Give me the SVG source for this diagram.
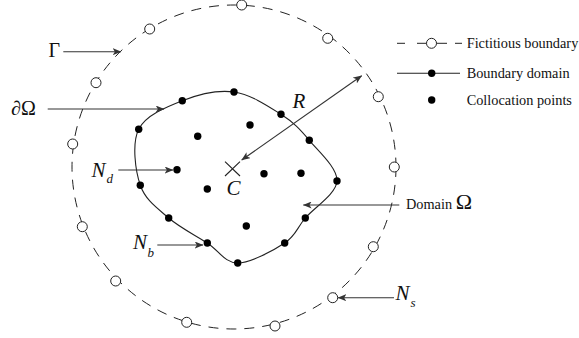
<svg xmlns="http://www.w3.org/2000/svg" width="579" height="338" viewBox="0 0 579 338">
<style>
.bg{fill:#fff}
.dash{fill:none;stroke:#222;stroke-width:1;stroke-dasharray:10 8}
.curve{fill:none;stroke:#222;stroke-width:1.1}
.arr{fill:none;stroke:#333;stroke-width:1.1;marker-end:url(#ah)}
.src{fill:#fff;stroke:#222;stroke-width:1}
.dot{fill:#000}
.lbl{font-family:"Liberation Serif","Times New Roman",serif;font-size:14.3px;fill:#111}
.math{font-family:"Liberation Serif","Times New Roman",serif;font-size:20px;fill:#111}
.big{font-size:21px}
.it{font-style:italic}
.sub{font-family:"Liberation Serif","Times New Roman",serif;font-size:13px;font-style:italic;fill:#111}
</style>
<defs>
<marker id="ah" viewBox="0 0 10 8" refX="9.5" refY="4" markerUnits="userSpaceOnUse" markerWidth="9" markerHeight="7" orient="auto-start-reverse">
<path d="M0,0 L10,4 L0,8 L2.5,4 z" fill="#333"/>
</marker>
</defs>
<rect class="bg" x="0" y="0" width="579" height="338"/>

<g id="fictitious-boundary">
<circle class="dash" cx="234" cy="167" r="162"/>
<circle class="src" cx="241.7" cy="5" r="5"/>
<circle class="src" cx="327.7" cy="38.3" r="5"/>
<circle class="src" cx="378.3" cy="96.7" r="5"/>
<circle class="src" cx="394.3" cy="167" r="5"/>
<circle class="src" cx="373.3" cy="246.7" r="5"/>
<circle class="src" cx="332.7" cy="297.7" r="5"/>
<circle class="src" cx="275" cy="326" r="5"/>
<circle class="src" cx="186.7" cy="322.3" r="5"/>
<circle class="src" cx="115.7" cy="281" r="5"/>
<circle class="src" cx="82.3" cy="226.7" r="5"/>
<circle class="src" cx="72.7" cy="144" r="5"/>
<circle class="src" cx="96" cy="82.7" r="5"/>
<circle class="src" cx="149.7" cy="29" r="5"/>
</g>

<g id="boundary-domain">
<path class="curve" d="M182.3,100.7 C198.18,94.48 217.55,89.73 234,92 C250.45,94.27 268.45,106.25 281,114.3 C293.55,122.35 299.97,129.18 309.3,140.3 C318.63,151.42 337.67,168.05 337,181 C336.33,193.95 314.02,207.67 305.3,218 C296.58,228.33 295.97,235.5 284.7,243 C273.43,250.5 250.6,263 237.7,263 C224.8,263 218.8,250.5 207.3,243 C195.8,235.5 179.87,227.62 168.7,218 C157.53,208.38 145.3,200.08 140.3,185.3 C135.3,170.52 131.7,143.4 138.7,129.3 C145.7,115.2 166.42,106.92 182.3,100.7 Z"/>
<circle class="dot" cx="182.3" cy="100.7" r="3.7"/>
<circle class="dot" cx="234" cy="92" r="3.7"/>
<circle class="dot" cx="281" cy="114.3" r="3.7"/>
<circle class="dot" cx="309.3" cy="140.3" r="3.7"/>
<circle class="dot" cx="337" cy="181" r="3.7"/>
<circle class="dot" cx="305.3" cy="218" r="3.7"/>
<circle class="dot" cx="284.7" cy="243" r="3.7"/>
<circle class="dot" cx="237.7" cy="263" r="3.7"/>
<circle class="dot" cx="207.3" cy="243" r="3.7"/>
<circle class="dot" cx="168.7" cy="218" r="3.7"/>
<circle class="dot" cx="140.3" cy="185.3" r="3.7"/>
<circle class="dot" cx="138.7" cy="129.3" r="3.7"/>
</g>

<g id="collocation-points">
<circle class="dot" cx="197.7" cy="136.3" r="3.7"/>
<circle class="dot" cx="250" cy="125" r="3.7"/>
<circle class="dot" cx="177" cy="169.7" r="3.7"/>
<circle class="dot" cx="207.3" cy="189" r="3.7"/>
<circle class="dot" cx="264" cy="173.7" r="3.7"/>
<circle class="dot" cx="301" cy="173.3" r="3.7"/>
<circle class="dot" cx="246.3" cy="226" r="3.7"/>
</g>

<g id="center">
<path d="M225,161.7 L240,176 M240,161.7 L225,176" stroke="#222" stroke-width="1.1" fill="none"/>
<text class="math big it" x="226.5" y="195">C</text>
</g>

<g id="connectors">
<line class="arr" x1="241.7" y1="160" x2="361.7" y2="75.7" style="marker-start:url(#ah)"/>
<line class="arr" x1="63.3" y1="51.7" x2="121" y2="51.7"/>
<line class="arr" x1="47.7" y1="109" x2="164" y2="109"/>
<line class="arr" x1="118.3" y1="170" x2="173" y2="170"/>
<line class="arr" x1="157.3" y1="245" x2="203" y2="245"/>
<line class="arr" x1="399.3" y1="205" x2="303.3" y2="205"/>
<line class="arr" x1="394" y1="297.7" x2="338" y2="297.7"/>
</g>

<g id="labels">
<text class="math" x="48.5" y="57">Γ</text>
<text class="math" x="11" y="114.5"><tspan class="it">∂</tspan>Ω</text>
<text class="math big it" x="292.5" y="107.5">R</text>
<text class="math big it" x="91.5" y="176.7">N</text><text class="sub" x="106.5" y="182.5">d</text>
<text class="math big it" x="133" y="248.5">N</text><text class="sub" x="147.5" y="256.5">b</text>
<text class="math big it" x="395.5" y="300">N</text><text class="sub" x="410.5" y="307">s</text>
<text class="lbl" x="406" y="208.5">Domain <tspan style="font-size:22px">Ω</tspan></text>
</g>

<g id="legend">
<line x1="397" y1="43.3" x2="405" y2="43.3" stroke="#222" stroke-width="1"/>
<line x1="417" y1="43.3" x2="447" y2="43.3" stroke="#222" stroke-width="1"/>
<line x1="455" y1="43.3" x2="462" y2="43.3" stroke="#222" stroke-width="1"/>
<circle class="src" cx="431.5" cy="43.3" r="5"/>
<text class="lbl" x="466.7" y="47.8">Fictitious boundary</text>
<line x1="397" y1="73.3" x2="460" y2="73.3" stroke="#222" stroke-width="1.1"/>
<circle class="dot" cx="431.7" cy="73.3" r="3.7"/>
<text class="lbl" x="466.7" y="78.3">Boundary domain</text>
<circle class="dot" cx="431.7" cy="100" r="3.7"/>
<text class="lbl" x="466.7" y="105">Collocation points</text>
</g>
</svg>
